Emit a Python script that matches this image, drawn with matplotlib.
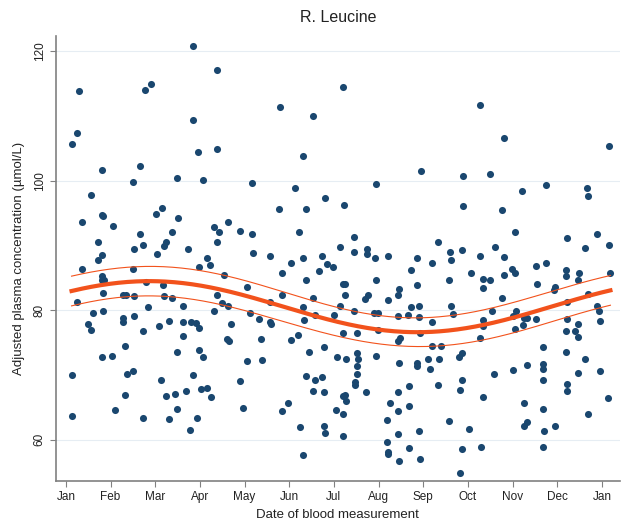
import numpy as np
import matplotlib
matplotlib.use("Agg")
import matplotlib.pyplot as plt

# Month of blood measurement (0 = 1 Jan, 12 = 1 Jan next year)
month = [
    2.845, 0.29, 1.765, 1.915, 2.845, 0.26, 0.127, 2.95, 0.80, 1.67, 1.50, 2.48, 3.06, 0.56, 0.365, 0.80,
    0.83, 1.065, 2.01, 2.145, 2.51, 2.375, 1.67, 0.72, 1.535, 1.735, 2.24, 2.20, 2.04, 2.74, 0.80, 0.72,
    0.365, 1.50, 2.97, 0.80, 0.85, 0.80, 1.80, 2.17, 0.835, 1.28, 1.34, 1.535, 2.205, 2.375, 0.25, 2.615,
    1.84, 0.835, 0.60, 1.535, 1.28, 1.28, 0.50, 0.565, 1.735, 2.08, 2.31, 2.615, 2.79, 2.91, 2.98, 2.615,
    1.33, 2.48, 2.98, 3.07, 0.80, 1.035, 0.127, 1.36, 1.51, 2.14, 2.845, 3.02, 2.24, 2.45, 2.68, 1.33,
    2.48, 0.127, 1.10, 1.735, 2.31, 2.94, 2.78,
    3.38, 6.21, 4.80, 5.535, 3.38, 5.30, 4.165, 5.13, 5.81, 6.235, 4.77, 5.37, 3.31, 3.42, 3.62, 3.89,
    4.165, 5.21, 3.38, 6.14, 4.19, 4.57, 5.30, 5.735, 3.15,
    3.22, 5.04, 5.85, 5.98, 5.675, 4.835, 3.55, 5.37, 6.21, 4.06, 3.38, 3.49, 3.62, 4.835, 5.535, 4.57,
    6.14, 3.31, 4.13, 5.31, 5.58, 6.01, 4.33, 5.33, 4.57, 4.60, 3.69, 3.60, 3.65, 4.36, 5.04, 5.20,
    5.78, 6.08, 5.44, 4.06, 4.395, 3.15, 3.25, 3.89, 5.37, 5.735, 5.57, 5.535, 5.78, 6.21, 3.96, 4.97,
    4.835, 6.04, 6.20, 5.235, 5.78, 5.81, 6.21, 5.30,
    9.27, 7.96, 8.90, 6.95, 8.90, 6.45, 6.45, 6.75, 6.75, 6.92, 7.22, 7.86, 8.33, 8.60, 8.63, 8.86, 9.27,
    8.19, 7.72, 9.07, 8.57, 9.33, 9.33, 6.95, 6.25, 6.25, 7.86, 6.755, 6.70, 7.43, 7.46, 7.22, 7.72,
    7.90, 8.62, 8.66, 6.45, 6.90, 6.99, 7.43, 7.66, 7.90, 9.33, 9.33, 8.19, 6.99, 6.21, 6.52, 7.43,
    7.49, 7.93, 9.27, 8.19, 8.40, 6.28, 6.52, 6.55, 6.52, 6.95, 7.46, 7.86, 7.86, 8.10, 8.16, 8.36,
    8.80, 8.86, 6.52, 6.48, 6.48, 6.72, 7.69, 7.43, 8.34, 8.86, 8.83, 6.25, 6.28, 9.33, 7.26, 7.43,
    7.69, 7.19, 8.57, 7.43, 7.90, 9.03, 7.19, 7.22, 7.22, 7.69, 8.86, 7.46, 7.93, 8.83, 9.30,
    9.81, 12.16, 9.50, 10.75, 10.21, 11.66, 11.69, 9.77, 10.05, 11.22, 11.89, 12.16, 9.61, 9.81, 11.63,
    10.52, 10.75, 9.98, 10.05, 11.19, 11.19, 11.49, 11.46, 12.19, 9.50, 9.81, 10.54, 10.93, 10.96, 9.77,
    11.69, 11.22, 11.89, 11.93, 9.55, 10.08, 10.01, 10.26, 10.33, 10.24, 10.52, 10.05, 11.22, 11.96,
    11.46, 11.39, 11.46, 11.19, 10.69, 11.19, 11.63, 10.69, 10.69, 10.32, 10.01, 9.58, 11.46, 11.96,
    10.69, 11.22, 11.22, 12.13, 10.26, 10.69, 11.69, 10.26, 10.32, 10.96, 10.70, 10.69,
]

# Adjusted plasma leucine (umol/L)
leucine = [
    120.8, 113.9, 114.0, 114.9, 109.3, 107.3, 105.6, 104.4, 101.7, 102.2, 99.8, 100.4, 100.1, 97.8, 93.6, 94.7,
    94.6, 93.0, 94.8, 95.7, 94.2, 92.0, 91.7, 90.5, 89.5, 90.1, 90.5, 89.9, 88.6, 89.4, 88.5, 87.8,
    86.3, 86.3, 86.7, 85.2, 84.7, 84.6, 84.4, 83.9, 82.6, 82.4, 82.4, 82.1, 82.1, 81.8, 81.3, 80.6,
    80.4, 79.9, 79.5, 79.1, 78.8, 78.2, 77.8, 76.9, 76.7, 77.5, 78.3, 78.2, 78.1, 78.0, 77.3, 76.0,
    74.5, 73.6, 73.8, 72.8, 72.8, 72.9, 70.0, 70.2, 70.6, 69.2, 69.9, 67.8, 66.8, 67.0, 67.5, 66.9,
    64.8, 63.6, 64.5, 63.4, 63.2, 63.4, 61.5,
    117.1, 114.4, 111.4, 110.0, 104.9, 103.8, 99.7, 98.8, 97.3, 96.3, 95.6, 95.6, 92.9, 92.0, 93.6, 92.2,
    91.7, 92.1, 90.5, 89.8, 88.8, 88.4, 88.1, 88.3, 88.1,
    87.0, 87.3, 87.1, 86.7, 86.0, 85.8, 85.4, 84.6, 84.0, 83.6, 82.4, 81.1, 80.6, 82.4, 81.9, 81.2,
    80.6, 79.9, 79.6, 80.5, 79.2, 79.3, 78.6, 78.5, 78.1, 77.8, 77.8, 75.6, 75.3, 75.5, 75.4, 76.2,
    74.3, 72.7, 73.5, 72.1, 72.3, 67.9, 66.5, 69.0, 69.8, 69.6, 69.2, 67.5, 67.4, 66.8, 64.9, 65.6,
    64.4, 64.5, 64.0, 62.0, 62.1, 61.0, 60.6, 57.6,
    111.6, 101.5, 100.7, 99.4, 96.1, 91.3, 88.9, 89.4, 88.6, 88.0, 88.3, 88.1, 90.5, 88.9, 87.8, 89.3, 88.4,
    87.3, 86.2, 85.7, 84.6, 84.8, 83.4, 84.7, 84.0, 82.4, 83.9, 82.4, 81.7, 82.4, 83.2, 81.5, 80.5,
    80.7, 80.6, 79.4, 79.8, 79.6, 79.6, 79.1, 79.3, 78.9, 78.4, 77.5, 78.1, 76.9, 76.4, 76.4, 75.3,
    75.7, 76.4, 75.7, 74.5, 74.5, 72.4, 73.4, 72.5, 71.4, 72.9, 71.8, 71.8, 71.4, 72.5, 70.9, 72.5,
    72.7, 73.3, 70.1, 68.9, 68.4, 67.4, 68.2, 67.4, 68.5, 69.2, 67.7, 66.9, 66.0, 66.5, 65.6, 64.4,
    65.2, 63.0, 62.9, 60.9, 61.4, 61.6, 59.7, 58.1, 57.7, 58.7, 58.5, 56.7, 57.0, 54.9, 58.8,
    106.6, 105.4, 101.0, 99.3, 98.4, 98.8, 97.6, 95.4, 92.0, 91.1, 91.7, 90.0, 89.7, 88.2, 89.6,
    86.8, 87.2, 86.4, 85.8, 86.2, 85.2, 85.7, 84.6, 85.8, 84.6, 85.4, 84.0, 83.1, 83.6, 81.8,
    82.5, 81.2, 80.6, 79.8, 79.9, 79.8, 79.1, 78.7, 78.7, 77.7, 78.6, 77.1, 78.6, 78.3,
    77.8, 76.8, 75.8, 76.7, 74.3, 73.6, 72.5, 71.7, 70.9, 71.5, 70.7, 70.2, 70.3, 70.6,
    69.2, 68.6, 67.5, 66.4, 65.6, 64.8, 63.9, 62.1, 62.7, 62.1, 61.4, 58.9,
]

month_labels = ["Jan", "Feb", "Mar", "Apr", "May", "Jun", "Jul",
                "Aug", "Sep", "Oct", "Nov", "Dec", "Jan"]

x = np.array(month)
y = np.array(leucine)

# Cosinor fit (one harmonic) with 95% CI of the mean
def design(t):
    w = 2 * np.pi * t / 12
    return np.column_stack([np.ones_like(t), np.cos(w), np.sin(w)])

X = design(x)
beta, _, _, _ = np.linalg.lstsq(X, y, rcond=None)
resid = y - X @ beta
sigma2 = resid @ resid / (len(y) - X.shape[1])
cov = sigma2 * np.linalg.inv(X.T @ X)

t = np.linspace(x.min(), x.max(), 300)
T = design(t)
fit = T @ beta
se = np.sqrt(np.einsum("ij,jk,ik->i", T, cov, T))
lo = fit - 1.96 * se
hi = fit + 1.96 * se

plt.rcParams["font.family"] = ["Liberation Sans", "DejaVu Sans"]

fig = plt.figure(figsize=(6.37, 5.24), dpi=100)
ax = fig.add_axes([0.088, 0.082, 0.885, 0.849])

ax.scatter(x, y, s=26, color="#1a476f", zorder=3, linewidths=0)
ax.plot(t, fit, color="#f2521c", lw=3.0, zorder=4)
ax.plot(t, lo, color="#f2521c", lw=0.8, zorder=4)
ax.plot(t, hi, color="#f2521c", lw=0.8, zorder=4)

ax.set_xlim(-0.22, 12.4)
ax.set_ylim(53.6, 122.3)
ax.set_xticks(range(13))
ax.set_xticklabels(month_labels)
ax.set_yticks([60, 80, 100, 120])
ax.set_yticklabels(["60", "80", "100", "120"], rotation=90, va="center")

ax.grid(axis="y", color="#e6edf3", lw=0.8)
ax.set_axisbelow(True)
for s in ["top", "right"]:
    ax.spines[s].set_visible(False)
for s in ["left", "bottom"]:
    ax.spines[s].set_color("#808080")
    ax.spines[s].set_linewidth(1.2)
ax.tick_params(colors="#808080", labelcolor="#222222", labelsize=8.5, length=4)

ax.set_xlabel("Date of blood measurement", fontsize=9.5, color="#222222")
ax.set_ylabel("Adjusted plasma concentration (µmol/L)", fontsize=9.5, color="#222222", labelpad=6)
ax.set_title("R. Leucine", fontsize=11.5, color="#222222", pad=10)

plt.savefig("out.png", dpi=100)
